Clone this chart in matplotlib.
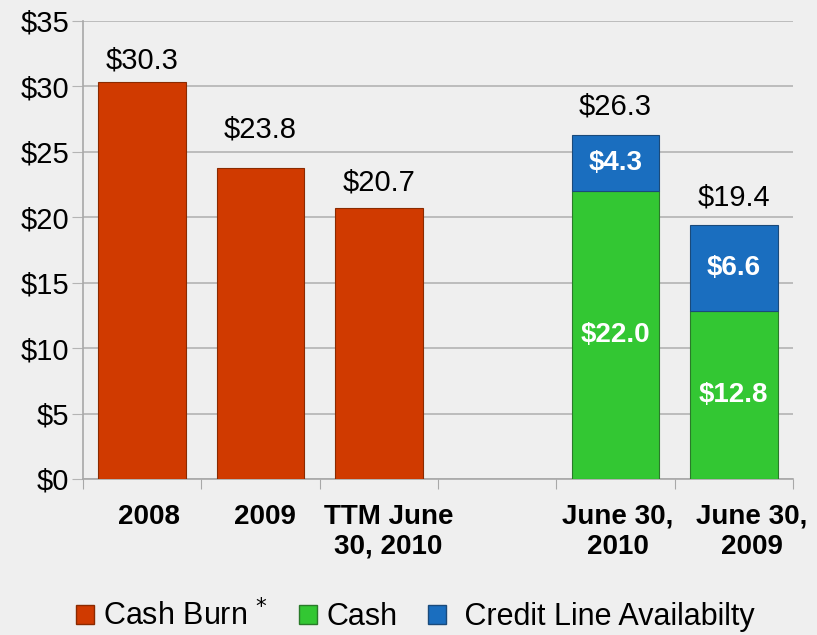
import numpy as np
import matplotlib.pyplot as plt
from matplotlib.patches import Patch

# chart data
categories = ["2008", "2009", "TTM June\n30, 2010", "", "June 30,\n2010", "June 30,\n2009"]
cash_burn = [30.3, 23.8, 20.7, 0, 0, 0]
cash = [0, 0, 0, 0, 22.0, 12.8]
credit_line = [0, 0, 0, 0, 4.3, 6.6]
y_ticks = [0, 5, 10, 15, 20, 25, 30, 35]

RED = "#d03a00"
GREEN = "#33c733"
BLUE = "#1a6ebf"
BG = "#efefef"

plt.rcParams['font.family'] = ['Liberation Sans', 'DejaVu Sans']

fig = plt.figure(figsize=(8.17, 6.35), dpi=100, facecolor=BG)
ax = fig.add_axes([0.1016, 0.2457, 0.869, 0.7213])
ax.set_facecolor(BG)

x = np.arange(len(categories))
w = 0.74

burn_idx = [i for i, v in enumerate(cash_burn) if v > 0]
stack_idx = [i for i, v in enumerate(cash) if v > 0]

b_burn = ax.bar(x[burn_idx], [cash_burn[i] for i in burn_idx], w,
                color=RED, edgecolor="#8a2a00", linewidth=0.8, zorder=3)
b_cash = ax.bar(x[stack_idx], [cash[i] for i in stack_idx], w,
                color=GREEN, edgecolor="#2a7a2a", linewidth=0.8, zorder=3)
b_credit = ax.bar(x[stack_idx], [credit_line[i] for i in stack_idx], w,
                  bottom=[cash[i] for i in stack_idx],
                  color=BLUE, edgecolor="#1a4a7a", linewidth=0.8, zorder=3)

# totals above bars (label gap in points, as in the slide)
gaps = {0: 6, 1: 17, 2: 8, 4: 10, 5: 10}
for i in burn_idx:
    ax.annotate(f"${cash_burn[i]:.1f}", (x[i], cash_burn[i]), xytext=(0, gaps[i]),
                textcoords="offset points", ha="center", va="bottom", fontsize=21)
for i in stack_idx:
    tot = cash[i] + credit_line[i]
    ax.annotate(f"${tot:.1f}", (x[i], tot), xytext=(0, gaps[i]),
                textcoords="offset points", ha="center", va="bottom", fontsize=21)

# values inside stacked bars
ax.bar_label(b_cash, labels=[f"${cash[i]:.1f}" for i in stack_idx], label_type="center",
             color="white", fontsize=20, fontweight="bold")
ax.bar_label(b_credit, labels=[f"${credit_line[i]:.1f}" for i in stack_idx], label_type="center",
             color="white", fontsize=20, fontweight="bold")

ax.set_xlim(-0.5, len(categories) - 0.5)
ax.set_ylim(0, 35)
ax.set_yticks(y_ticks)
ax.set_yticklabels([f"${v}" for v in y_ticks], fontsize=21)
ax.yaxis.grid(True, color="#b4b4b4", linewidth=1.2, zorder=0)
ax.tick_params(axis="y", length=8, color="#b4b4b4", pad=2)

# category labels centred, ticks on boundaries
ax.set_xticks(np.arange(len(categories) + 1) - 0.5)
ax.set_xticklabels([])
ax.tick_params(axis="x", length=7, color="#a8a8a8", direction="out")
label_shift = [0.06, 0.04, 0.08, 0, 0.02, 0.15]
for i, lab in enumerate(categories):
    ax.text(x[i] + label_shift[i], -1.9, lab, ha="center", va="top", fontsize=20,
            fontweight="bold", linespacing=1.2)

for s in ["top", "right"]:
    ax.spines[s].set_visible(False)
ax.spines["left"].set_color("#a8a8a8")
ax.spines["bottom"].set_color("#a8a8a8")
ax.spines["left"].set_linewidth(1.2)
ax.spines["bottom"].set_linewidth(1.2)

handles = [Patch(facecolor=RED, edgecolor="#8a2a00"),
           Patch(facecolor=GREEN, edgecolor="#2a7a2a"),
           Patch(facecolor=BLUE, edgecolor="#1a4a7a")]
fig.legend(handles, ["Cash Burn $^{*}$", "Cash", " Credit Line Availabilty"],
           loc="center", bbox_to_anchor=(0.508, 0.03), ncol=3, frameon=False,
           handlelength=0.6, handleheight=0.6, handletextpad=0.3,
           columnspacing=1.0, prop={'size': 22})

fig.savefig("out.png", dpi=100, facecolor=BG)
